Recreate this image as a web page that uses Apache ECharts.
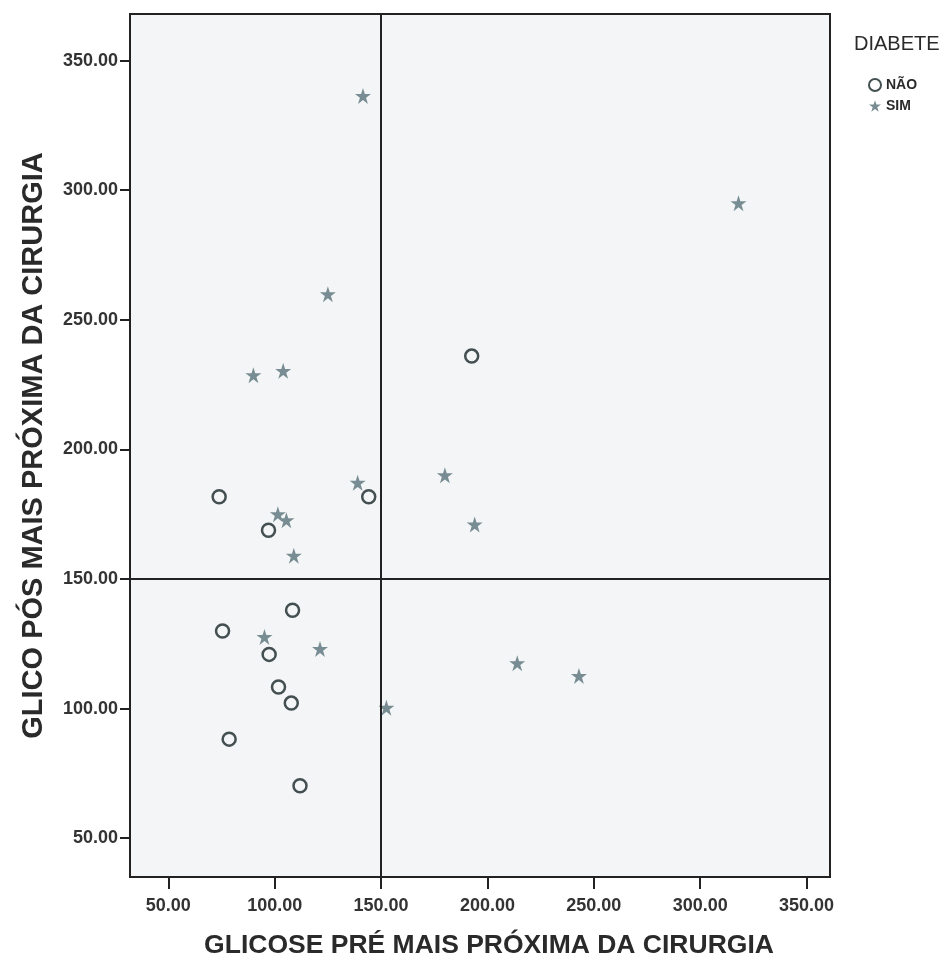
<!DOCTYPE html>
<html>
<head>
<meta charset="utf-8">
<script src="https://cdn.jsdelivr.net/npm/echarts@6/dist/echarts.min.js"></script>
<style>
html,body{margin:0;padding:0;background:#ffffff;}
#chart{width:952px;height:965px;}
</style>
</head>
<body>
<div id="chart"></div>
<script>
// Data
const naoX = [192.6, 73.9, 144.2, 97.1, 108.4, 75.5, 97.4, 101.8, 107.8, 78.6, 111.9];
const naoY = [236.0, 181.7, 181.7, 168.8, 137.9, 129.9, 120.9, 108.3, 102.1, 88.2, 70.2];
const simX = [141.5, 318.0, 125.0, 104.0, 90.0, 180.0, 139.0, 101.5, 105.5, 194.0, 109.0, 95.2, 121.3, 152.5, 214.0, 243.0];
const simY = [336.4, 295.0, 259.9, 230.3, 228.6, 190.0, 187.1, 175.0, 172.7, 171.0, 159.0, 127.6, 123.0, 100.3, 117.5, 112.6];
const tickValues = [50, 100, 150, 200, 250, 300, 350];
const refX = [150];
const refY = [150];
const seriesNames = ['NÃO', 'SIM'];
const legendTitle = 'DIABETE';
const xTitle = 'GLICOSE PRÉ MAIS PRÓXIMA DA CIRURGIA';
const yTitle = 'GLICO PÓS MAIS PRÓXIMA DA CIRURGIA';

const zip = (xs, ys) => xs.map((x, i) => [x, ys[i]]);
const STAR = 'path://M50,2 L61,36 L97,36 L68,57 L79,92 L50,70 L21,92 L32,57 L3,36 L39,36 Z';
const FONT = '"Liberation Sans", Arial, sans-serif';

function makeAxis(tickLen, labelMargin) {
  return {
    type: 'value',
    axisLine: {show: true, onZero: false, lineStyle: {color: '#222', width: 2}},
    axisTick: {show: true, length: tickLen, customValues: tickValues, lineStyle: {color: '#222', width: 2}},
    axisLabel: {customValues: tickValues, margin: labelMargin, color: '#333', fontFamily: FONT,
                fontWeight: 'bold', fontSize: 18, formatter: v => v.toFixed(2)},
    splitLine: {show: false},
    nameLocation: 'middle'
  };
}

const chart = echarts.init(document.getElementById('chart'), null, {renderer: 'canvas'});
chart.setOption({
  animation: false,
  backgroundColor: '#ffffff',
  title: {
    text: legendTitle, left: 849, top: 29,
    textStyle: {color: '#2a2a2a', fontFamily: FONT, fontWeight: 'normal', fontSize: 20}
  },
  legend: {
    orient: 'vertical', left: 863, top: 73, itemGap: 7, itemWidth: 12, itemHeight: 12,
    textStyle: {color: '#2a2a2a', fontFamily: FONT, fontWeight: 'bold', fontSize: 14},
    data: seriesNames
  },
  grid: {
    left: 130, top: 14, right: 122, bottom: 88, show: true,
    backgroundColor: '#f4f5f7', borderColor: '#222', borderWidth: 2
  },
  xAxis: Object.assign(makeAxis(12, 20), {
    min: 32, max: 361, name: xTitle, nameGap: 55, position: 'bottom',
    nameTextStyle: {color: '#2a2a2a', fontFamily: FONT, fontWeight: 'bold', fontSize: 26.5, padding: [0, 0, 0, 18]}
  }),
  yAxis: Object.assign(makeAxis(10, 12), {
    min: 35, max: 368, name: yTitle, nameGap: 82, nameRotate: 90, position: 'left',
    nameTextStyle: {color: '#2a2a2a', fontFamily: FONT, fontWeight: 'bold', fontSize: 29}
  }),
  series: [
    {
      name: seriesNames[0], type: 'scatter', symbol: 'circle', symbolSize: 13,
      itemStyle: {color: 'rgba(0,0,0,0)', borderColor: '#434f51', borderWidth: 2.5, opacity: 1},
      data: zip(naoX, naoY),
      markLine: {
        silent: true, symbol: 'none', label: {show: false},
        lineStyle: {color: '#222', width: 2, type: 'solid'},
        data: refX.map(v => ({xAxis: v})).concat(refY.map(v => ({yAxis: v})))
      },
      z: 3
    },
    {
      name: seriesNames[1], type: 'scatter', symbol: STAR, symbolSize: 16,
      itemStyle: {color: '#788d93', opacity: 1},
      data: zip(simX, simY), z: 3
    }
  ]
});
</script>
</body>
</html>
